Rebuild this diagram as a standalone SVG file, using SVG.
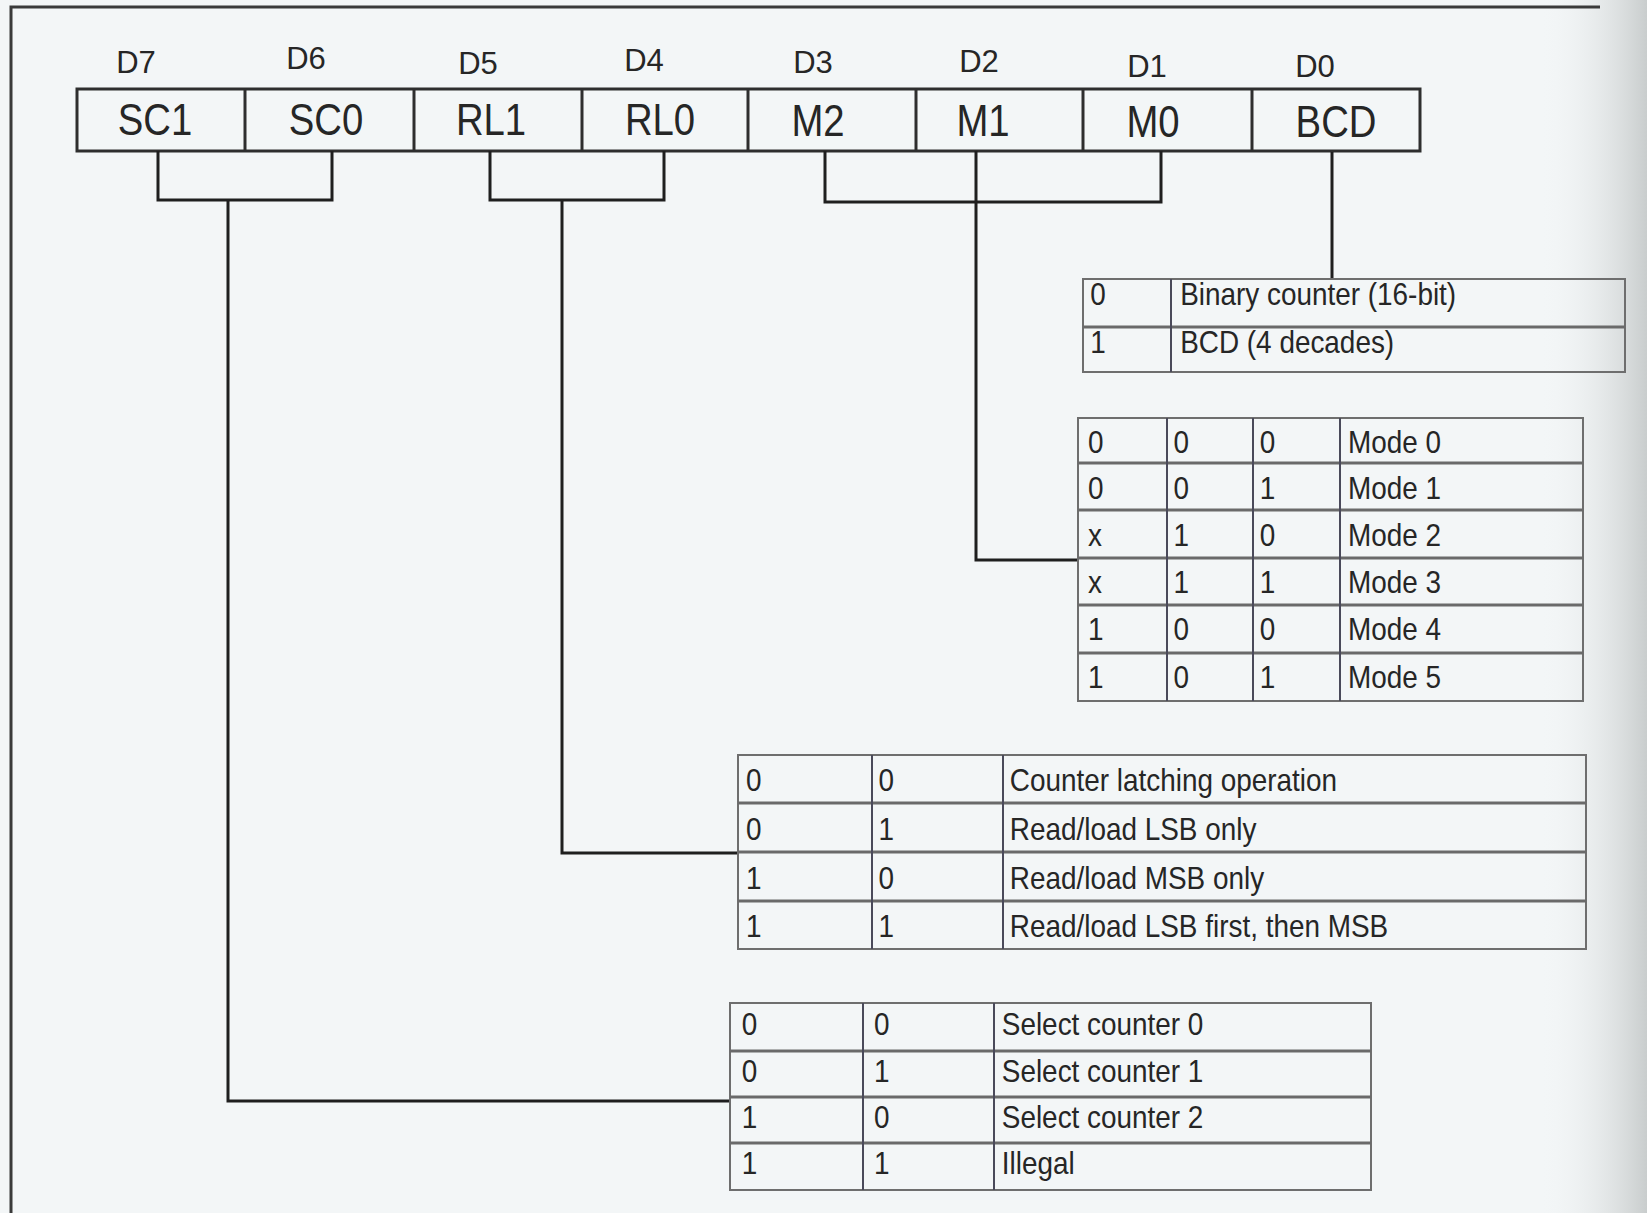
<svg xmlns="http://www.w3.org/2000/svg" width="1647" height="1213" viewBox="0 0 1647 1213">
<defs>
<linearGradient id="edge" x1="0" y1="0" x2="1" y2="0">
<stop offset="0" stop-color="#f3f6f7" stop-opacity="0"/>
<stop offset="1" stop-color="#c9cdcd"/>
</linearGradient>
<style>
text{font-family:"Liberation Sans",Arial,sans-serif;fill:#262626}
.d{font-size:31px;text-anchor:middle}
.h{font-size:44px;text-anchor:middle}
.t{font-size:31px}
.box{fill:none;stroke:#2e2e2e;stroke-width:3}
.cell{stroke:#2e2e2e;stroke-width:3}
.tb{fill:none;stroke:#6e6e6e;stroke-width:2}
.rl{stroke:#6a6a6a;stroke-width:3}
.cl{stroke:#4a4a5a;stroke-width:2}
.con{fill:none;stroke:#1f1f1f;stroke-width:3}
.frame{fill:none;stroke:#3a3a3a;stroke-width:3}
</style>
</defs>
<rect x="0" y="0" width="1647" height="1213" fill="#f3f6f7"/>
<rect x="1540" y="0" width="107" height="1213" fill="url(#edge)"/>
<path class="frame" d="M11,1213 V7 H1600"/>

<g id="control-word">
<rect class="box" x="77" y="89" width="1343" height="62"/>
<line class="cell" x1="245" y1="89" x2="245" y2="151"/>
<line class="cell" x1="414" y1="89" x2="414" y2="151"/>
<line class="cell" x1="582" y1="89" x2="582" y2="151"/>
<line class="cell" x1="748" y1="89" x2="748" y2="151"/>
<line class="cell" x1="916" y1="89" x2="916" y2="151"/>
<line class="cell" x1="1083" y1="89" x2="1083" y2="151"/>
<line class="cell" x1="1252" y1="89" x2="1252" y2="151"/>
<text class="d" x="136" y="73">D7</text>
<text class="d" x="306" y="69">D6</text>
<text class="d" x="478" y="74">D5</text>
<text class="d" x="644" y="71">D4</text>
<text class="d" x="813" y="73">D3</text>
<text class="d" x="979" y="72">D2</text>
<text class="d" x="1147" y="77">D1</text>
<text class="d" x="1315" y="77">D0</text>
<text class="h" transform="translate(155,135) scale(0.87 1)">SC1</text>
<text class="h" transform="translate(326,135) scale(0.87 1)">SC0</text>
<text class="h" transform="translate(491,135) scale(0.87 1)">RL1</text>
<text class="h" transform="translate(660,135) scale(0.87 1)">RL0</text>
<text class="h" transform="translate(818,136) scale(0.87 1)">M2</text>
<text class="h" transform="translate(983,136) scale(0.87 1)">M1</text>
<text class="h" transform="translate(1153,137) scale(0.87 1)">M0</text>
<text class="h" transform="translate(1336,137) scale(0.87 1)">BCD</text>
</g>

<g id="connectors">
<path class="con" d="M158,151 V200 H332 V151"/>
<path class="con" d="M228,200 V1101 H730"/>
<path class="con" d="M490,151 V200 H664 V151"/>
<path class="con" d="M562,200 V853 H738"/>
<path class="con" d="M825,151 V202 H1161 V151"/>
<path class="con" d="M976,151 V560 H1078"/>
<path class="con" d="M1332,152 V279"/>
</g>

<g id="bcd-table">
<rect class="tb" x="1083" y="279" width="542" height="93"/>
<line class="rl" x1="1083" y1="327" x2="1625" y2="327"/>
<line class="cl" x1="1171" y1="279" x2="1171" y2="372"/>
<g transform="translate(1083 0) scale(0.9 1)">
<text class="t" x="8" y="305">0</text>
<text class="t" x="108" y="305">Binary counter (16-bit)</text>
<text class="t" x="8" y="353">1</text>
<text class="t" x="108" y="353">BCD (4 decades)</text>
</g>
</g>

<g id="mode-table">
<rect class="tb" x="1078" y="418" width="505" height="283"/>
<line class="rl" x1="1078" y1="463" x2="1583" y2="463"/>
<line class="rl" x1="1078" y1="510" x2="1583" y2="510"/>
<line class="rl" x1="1078" y1="558" x2="1583" y2="558"/>
<line class="rl" x1="1078" y1="605" x2="1583" y2="605"/>
<line class="rl" x1="1078" y1="653" x2="1583" y2="653"/>
<line class="cl" x1="1167" y1="418" x2="1167" y2="701"/>
<line class="cl" x1="1253" y1="418" x2="1253" y2="701"/>
<line class="cl" x1="1340" y1="418" x2="1340" y2="701"/>
<g transform="translate(1078 0) scale(0.9 1)">
<text class="t" x="11" y="453">0</text><text class="t" x="106" y="453">0</text><text class="t" x="202" y="453">0</text><text class="t" x="300" y="453">Mode 0</text>
<text class="t" x="11" y="499">0</text><text class="t" x="106" y="499">0</text><text class="t" x="202" y="499">1</text><text class="t" x="300" y="499">Mode 1</text>
<text class="t" x="11" y="546">x</text><text class="t" x="106" y="546">1</text><text class="t" x="202" y="546">0</text><text class="t" x="300" y="546">Mode 2</text>
<text class="t" x="11" y="593">x</text><text class="t" x="106" y="593">1</text><text class="t" x="202" y="593">1</text><text class="t" x="300" y="593">Mode 3</text>
<text class="t" x="11" y="640">1</text><text class="t" x="106" y="640">0</text><text class="t" x="202" y="640">0</text><text class="t" x="300" y="640">Mode 4</text>
<text class="t" x="11" y="688">1</text><text class="t" x="106" y="688">0</text><text class="t" x="202" y="688">1</text><text class="t" x="300" y="688">Mode 5</text>
</g>
</g>

<g id="read-load-table">
<rect class="tb" x="738" y="755" width="848" height="194"/>
<line class="rl" x1="738" y1="803" x2="1586" y2="803"/>
<line class="rl" x1="738" y1="852" x2="1586" y2="852"/>
<line class="rl" x1="738" y1="901" x2="1586" y2="901"/>
<line class="cl" x1="872" y1="755" x2="872" y2="949"/>
<line class="cl" x1="1003" y1="755" x2="1003" y2="949"/>
<g transform="translate(738 0) scale(0.9 1)">
<text class="t" x="9" y="791">0</text><text class="t" x="156" y="791">0</text><text class="t" x="302" y="791">Counter latching operation</text>
<text class="t" x="9" y="840">0</text><text class="t" x="156" y="840">1</text><text class="t" x="302" y="840">Read/load LSB only</text>
<text class="t" x="9" y="889">1</text><text class="t" x="156" y="889">0</text><text class="t" x="302" y="889">Read/load MSB only</text>
<text class="t" x="9" y="937">1</text><text class="t" x="156" y="937">1</text><text class="t" x="302" y="937">Read/load LSB first, then MSB</text>
</g>
</g>

<g id="select-table">
<rect class="tb" x="730" y="1003" width="641" height="187"/>
<line class="rl" x1="730" y1="1051" x2="1371" y2="1051"/>
<line class="rl" x1="730" y1="1097" x2="1371" y2="1097"/>
<line class="rl" x1="730" y1="1143" x2="1371" y2="1143"/>
<line class="cl" x1="863" y1="1003" x2="863" y2="1190"/>
<line class="cl" x1="994" y1="1003" x2="994" y2="1190"/>
<g transform="translate(730 0) scale(0.9 1)">
<text class="t" x="13" y="1035">0</text><text class="t" x="160" y="1035">0</text><text class="t" x="302" y="1035">Select counter 0</text>
<text class="t" x="13" y="1082">0</text><text class="t" x="160" y="1082">1</text><text class="t" x="302" y="1082">Select counter 1</text>
<text class="t" x="13" y="1128">1</text><text class="t" x="160" y="1128">0</text><text class="t" x="302" y="1128">Select counter 2</text>
<text class="t" x="13" y="1174">1</text><text class="t" x="160" y="1174">1</text><text class="t" x="302" y="1174">Illegal</text>
</g>
</g>
</svg>
